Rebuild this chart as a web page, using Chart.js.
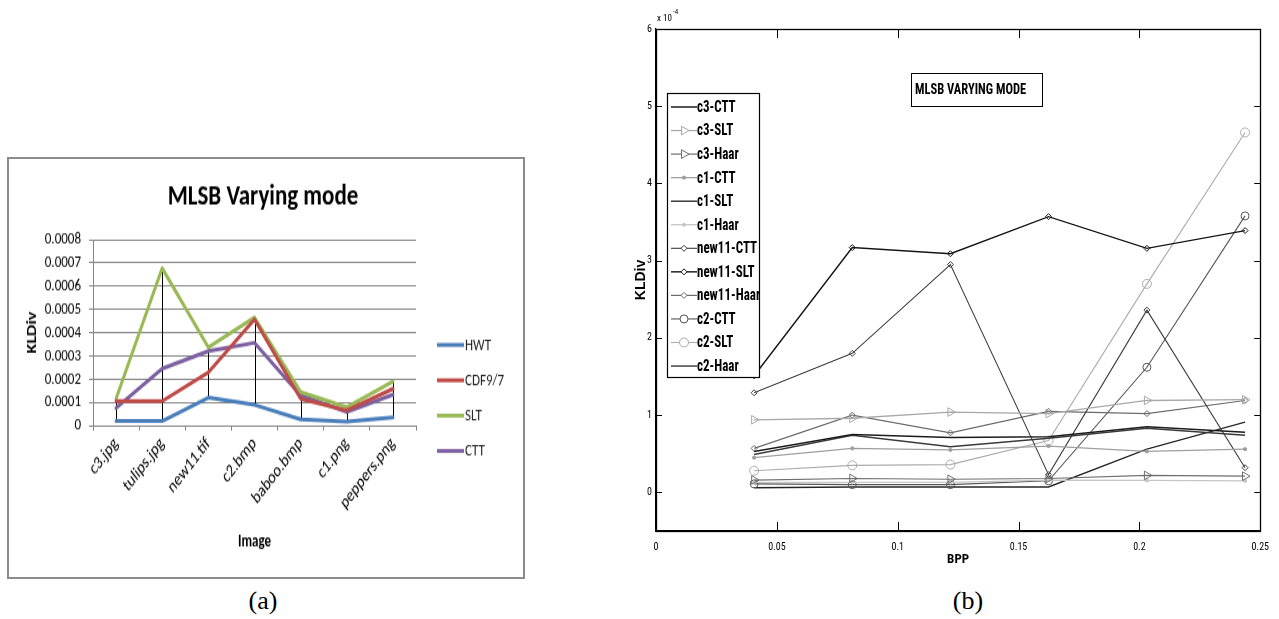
<!DOCTYPE html>
<html><head><meta charset="utf-8">
<script src="https://cdn.jsdelivr.net/npm/chart.js@4/dist/chart.umd.min.js"></script>
<style>
html,body{margin:0;padding:0;background:#fff;width:1279px;height:619px;overflow:hidden;}
#boxA{position:absolute;left:7px;top:157px;width:514px;height:418px;border:2px solid #8c8c8c;overflow:hidden;}
#inA{position:absolute;left:0;top:0;width:514px;height:322px;transform:scaleY(1.3);transform-origin:0 0;}
#wrapB{position:absolute;left:620px;top:0;width:659px;height:580px;}
.cap{position:absolute;top:586px;width:80px;text-align:center;font-family:'Liberation Serif','DejaVu Serif',serif;font-size:26px;color:#000;}
</style></head><body>
<div id="boxA"><div id="inA"><canvas id="cA" width="514" height="322"></canvas></div></div>
<div id="wrapB"><canvas id="cB" width="659" height="580"></canvas></div>
<div class="cap" style="left:223px">(a)</div>
<div class="cap" style="left:928px">(b)</div>
<script>
const CAL = "Carlito, Calibri, 'Open Sans', sans-serif";
const NARROW = "'Roboto Condensed','Liberation Sans',sans-serif";

// ---------- Chart (a) data ----------
const catsA = ['c3.jpg','tulips.jpg','new11.tif','c2.bmp','baboo.bmp','c1.png','peppers.png'];
const hwtA   = [0.000019,0.000019,0.000120,0.000089,0.000027,0.000017,0.000035];
const cdf97A = [0.000105,0.000105,0.000229,0.000457,0.000115,0.000065,0.000158];
const sltA   = [0.000115,0.000677,0.000336,0.000465,0.000144,0.000079,0.000190];
const cttA   = [0.000075,0.000245,0.000320,0.000356,0.000130,0.000058,0.000133];
const yTicksA = [0,0.0001,0.0002,0.0003,0.0004,0.0005,0.0006,0.0007,0.0008];

// ---------- Chart (b) data (values in units of 1e-4) ----------
const bpp = [0.0406,0.0812,0.1218,0.1624,0.2031,0.2437];
const c3CTT    = [0.53,0.75,0.71,0.72,0.85,0.78];
const c3SLT    = [0.94,0.96,1.04,1.02,1.19,1.20];
const c3Haar   = [0.16,0.18,0.17,0.18,0.22,0.21];
const c1CTT    = [0.45,0.57,0.55,0.60,0.53,0.56];
const c1SLT    = [0.49,0.74,0.59,0.70,0.83,0.74];
const c1Haar   = [0.13,0.13,0.13,0.16,0.155,0.15];
const new11CTT = [1.29,1.80,2.95,0.23,2.36,0.32];
const new11SLT = [1.51,3.17,3.09,3.57,3.16,3.39];
const new11Haar= [0.57,1.00,0.77,1.05,1.02,1.19];
const c2CTT    = [0.11,0.10,0.10,0.15,1.62,3.58];
const c2SLT    = [0.28,0.35,0.36,0.67,2.70,4.66];
const c2Haar   = [0.06,0.07,0.07,0.07,0.56,0.91];
const xTicksB = [0,0.05,0.1,0.15,0.2,0.25];
const xTickLabelsB = ['0','0.05','0.1','0.15','0.2','0.25'];
const yTicksB = [0,1,2,3,4,5,6];

// ---------- Chart (a) ----------
const decorA = {
  id:'decorA',
  beforeDatasetsDraw(chart){
    const {ctx, scales:{x,y}} = chart;
    ctx.save(); ctx.strokeStyle='#000'; ctx.lineWidth=1;
    for(let i=0;i<catsA.length;i++){
      const vals = chart.data.datasets.map(d=>d.data[i]);
      const px = Math.round(x.getPixelForValue(i))+0.5;
      ctx.beginPath();
      ctx.moveTo(px, y.getPixelForValue(Math.max(...vals)));
      ctx.lineTo(px, y.getPixelForValue(Math.min(...vals)));
      ctx.stroke();
    }
    ctx.restore();
  },
  afterDraw(chart){
    const ctx = chart.ctx;
    ctx.save();
    ctx.fillStyle='#000';
    ctx.font = "bold 23px "+CAL;
    ctx.textAlign='center'; ctx.textBaseline='middle';
    ctx.fillText('MLSB Varying mode', 254, 29);
    ctx.font = "13px "+CAL;
    ctx.textAlign='left';
    chart.data.datasets.forEach((d,i)=>{
      const yy = 143 + i*27.2;
      ctx.strokeStyle = d.borderColor; ctx.lineWidth = 3;
      ctx.beginPath(); ctx.moveTo(428,yy); ctx.lineTo(455,yy); ctx.stroke();
      ctx.fillStyle='#262626';
      ctx.fillText(d.label, 456, yy+0.5);
    });
    ctx.restore();
  }
};

new Chart(document.getElementById('cA'), {
  type:'line',
  data:{labels:catsA, datasets:[
    {label:'HWT', data:hwtA, borderColor:'#4a7ebb'},
    {label:'CDF9/7', data:cdf97A, borderColor:'#be4b48'},
    {label:'SLT', data:sltA, borderColor:'#98b954'},
    {label:'CTT', data:cttA, borderColor:'#7d60a0'}
  ]},
  options:{
    responsive:false, animation:false,
    layout:{padding:{left:0,top:62,right:107,bottom:0}},
    plugins:{legend:{display:false}, title:{display:false}, tooltip:{enabled:false}},
    elements:{point:{radius:0}, line:{borderWidth:3, tension:0, borderCapStyle:'round', borderJoinStyle:'round'}},
    scales:{
      x:{offset:true,
         grid:{drawOnChartArea:false, drawTicks:true, tickLength:4, color:'#868686', offset:true},
         border:{color:'#868686'},
         ticks:{minRotation:45, maxRotation:45, autoSkip:false, padding:2, color:'#000', font:{family:CAL, size:14}},
         title:{display:true, text:'Image', color:'#000', font:{family:CAL, size:13, weight:'bold'}, padding:{top:0,bottom:19}},
         afterFit(s){ s.height = 117; }
      },
      y:{min:0, max:0.0008,
         afterBuildTicks(s){ s.ticks = yTicksA.map(v=>({value:v})); },
         grid:{color:'#868686', tickLength:4},
         border:{color:'#868686'},
         ticks:{autoSkip:false, padding:8, color:'#000', font:{family:CAL, size:13}, callback:v=> v===0 ? '0' : v.toFixed(4)},
         title:{display:true, text:'KLDiv', color:'#000', font:{family:CAL, size:14, weight:'bold'}, padding:{top:15,bottom:0}},
         afterFit(s){ s.width = 84; }
      }
    }
  },
  plugins:[decorA]
});

// ---------- Chart (b) ----------
const seriesB = [
  {label:'c3-CTT',    data:c3CTT,    color:'#1c1c1c', w:1.5, style:false},
  {label:'c3-SLT',    data:c3SLT,    color:'#a8a8a8', w:1.3, style:'triangle', r:5, rot:90},
  {label:'c3-Haar',   data:c3Haar,   color:'#6e6e6e', w:1.2, style:'triangle', r:5, rot:90},
  {label:'c1-CTT',    data:c1CTT,    color:'#9e9e9e', w:1.3, style:'circle', r:1.6, fill:true},
  {label:'c1-SLT',    data:c1SLT,    color:'#3a3a3a', w:1.5, style:false},
  {label:'c1-Haar',   data:c1Haar,   color:'#c6c6c6', w:1.3, style:'circle', r:1.6, fill:true},
  {label:'new11-CTT', data:new11CTT, color:'#3c3c3c', w:1.1, style:'rectRot', r:3},
  {label:'new11-SLT', data:new11SLT, color:'#141414', w:1.4, style:'rectRot', r:3},
  {label:'new11-Haar',data:new11Haar,color:'#6a6a6a', w:1.2, style:'rectRot', r:3},
  {label:'c2-CTT',    data:c2CTT,    color:'#555555', w:1.1, style:'circle', r:4},
  {label:'c2-SLT',    data:c2SLT,    color:'#ababab', w:1.1, style:'circle', r:4.5},
  {label:'c2-Haar',   data:c2Haar,   color:'#262626', w:1.3, style:false}
];

function tallText(ctx, txt, x, y, sy){
  ctx.save(); ctx.translate(x,y); ctx.scale(1,sy); ctx.fillText(txt,0,0); ctx.restore();
}

const decorB = {
  id:'decorB',
  afterDraw(chart){
    const {ctx, chartArea:a, scales:{x,y}} = chart;
    ctx.save();
    // axes box
    ctx.strokeStyle='#000'; ctx.lineWidth=1.3;
    ctx.strokeRect(Math.round(a.left)+0.5, Math.round(a.top)+0.5, Math.round(a.right-a.left), Math.round(a.bottom-a.top));
    // inner ticks
    ctx.lineWidth=1;
    xTicksB.forEach(v=>{
      const px = Math.round(x.getPixelForValue(v))+0.5;
      ctx.beginPath();
      ctx.moveTo(px,a.bottom); ctx.lineTo(px,a.bottom-9);
      ctx.moveTo(px,a.top); ctx.lineTo(px,a.top+9);
      ctx.stroke();
    });
    yTicksB.forEach(v=>{
      const py = Math.round(y.getPixelForValue(v))+0.5;
      ctx.beginPath();
      ctx.moveTo(a.left,py); ctx.lineTo(a.left+6,py);
      ctx.moveTo(a.right,py); ctx.lineTo(a.right-6,py);
      ctx.stroke();
    });
    // exponent label
    ctx.fillStyle='#000'; ctx.textBaseline='alphabetic'; ctx.textAlign='left';
    ctx.font = "9px "+NARROW;
    ctx.fillText('x 10', 37, 21);
    ctx.font = "7px "+NARROW;
    ctx.fillText('-4', 53, 14);
    // title box
    ctx.fillStyle='#fff';
    ctx.fillRect(291.5,73.5,131,33);
    ctx.strokeStyle='#000'; ctx.lineWidth=1;
    ctx.strokeRect(291.5,73.5,131,33);
    ctx.fillStyle='#000';
    ctx.font = "bold 12.5px "+NARROW;
    ctx.textBaseline='middle';
    tallText(ctx, 'MLSB VARYING MODE', 295, 90, 1.2);
    // legend
    ctx.fillStyle='#fff';
    ctx.fillRect(47.5,93.5,92,284);
    ctx.strokeStyle='#000'; ctx.lineWidth=1.2;
    ctx.strokeRect(47.5,93.5,92,284);
    ctx.font = "bold 13px "+NARROW;
    seriesB.forEach((s,i)=>{
      const yy = 107 + i*23.55;
      ctx.strokeStyle = s.color; ctx.lineWidth = s.w;
      ctx.beginPath(); ctx.moveTo(51,yy); ctx.lineTo(77,yy); ctx.stroke();
      if(s.style){
        ctx.fillStyle = s.fill ? s.color : '#fff';
        ctx.strokeStyle = s.color; ctx.lineWidth = 1;
        Chart.helpers.drawPoint(ctx, {pointStyle:s.style, radius:s.r, rotation:s.rot||0, borderWidth:1}, 64, yy);
      }
      ctx.fillStyle='#000';
      tallText(ctx, s.label, 77, yy+1, 1.2);
    });
    ctx.restore();
  }
};

new Chart(document.getElementById('cB'), {
  type:'line',
  data:{datasets: seriesB.map(s=>({
    label:s.label,
    data:s.data.map((v,i)=>({x:bpp[i], y:v})),
    borderColor:s.color, borderWidth:s.w,
    pointStyle: s.style || 'circle',
    pointRadius: s.style ? s.r : 0,
    pointRotation: s.rot || 0,
    pointBorderColor:s.color, pointBorderWidth:1,
    pointBackgroundColor: s.fill ? s.color : 'rgba(255,255,255,0)',
    tension:0, fill:false
  }))},
  options:{
    responsive:false, animation:false,
    layout:{padding:{left:0, top:29, right:18, bottom:0}},
    plugins:{legend:{display:false}, title:{display:false}, tooltip:{enabled:false}},
    scales:{
      x:{type:'linear', min:0, max:0.25,
         afterBuildTicks(s){ s.ticks = xTicksB.map(v=>({value:v})); },
         grid:{display:false, drawTicks:false},
         border:{display:true, color:'#000', width:1.3},
         ticks:{autoSkip:false, padding:10, color:'#000', font:{family:NARROW, size:10}, callback:(v,i)=>xTickLabelsB[i]},
         title:{display:true, text:'BPP', color:'#000', font:{family:NARROW, size:13, weight:'bold'}, padding:{top:0,bottom:12}},
         afterFit(s){ s.height = 49; }
      },
      y:{type:'linear', min:-0.5, max:6,
         afterBuildTicks(s){ s.ticks = yTicksB.map(v=>({value:v})); },
         grid:{display:false, drawTicks:false},
         border:{display:true, color:'#000', width:1.3},
         ticks:{autoSkip:false, padding:4, color:'#000', font:{family:NARROW, size:10}, callback:v=>String(v)},
         title:{display:true, text:'KLDiv', color:'#000', font:{family:"'Liberation Sans',sans-serif", size:14, weight:'bold'}, padding:{top:13,bottom:0}},
         afterFit(s){ s.width = 36; }
      }
    }
  },
  plugins:[decorB]
});
</script>
</body></html>
